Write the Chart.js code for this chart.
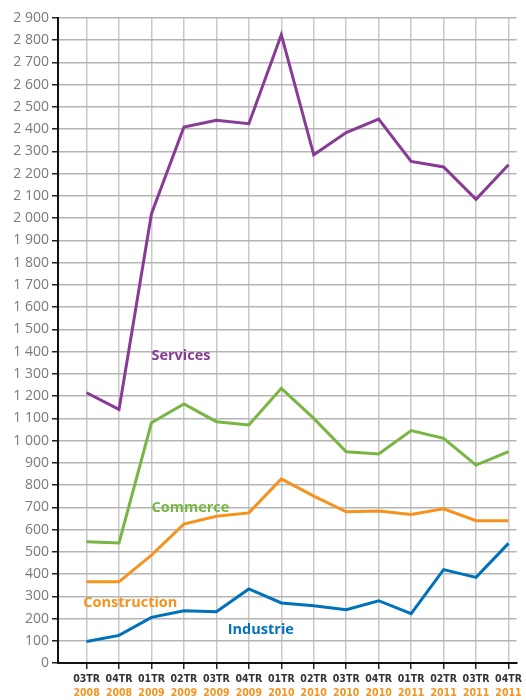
<!DOCTYPE html>
<html>
<head>
<meta charset="utf-8">
<script src="https://cdn.jsdelivr.net/npm/chart.js@4"></script>
<style>
  html, body { margin: 0; padding: 0; background: #fff; }
  #wrap { width: 526px; height: 700px; }
</style>
</head>
<body>
<div id="wrap"><canvas id="myChart" width="526" height="700"></canvas></div>
<script>
const quarters = ["03TR", "04TR", "01TR", "02TR", "03TR", "04TR", "01TR", "02TR", "03TR", "04TR", "01TR", "02TR", "03TR", "04TR"];
const years = ["2008", "2008", "2009", "2009", "2009", "2009", "2010", "2010", "2010", "2010", "2011", "2011", "2011", "2011"];

const services = [1215, 1140, 2020, 2410, 2440, 2425, 2825, 2285, 2385, 2445, 2255, 2230, 2085, 2240];
const commerce = [545, 540, 1080, 1165, 1085, 1070, 1235, 1100, 950, 940, 1045, 1010, 890, 950];
const construction = [365, 365, 485, 625, 660, 675, 828, 750, 680, 683, 668, 693, 640, 640];
const industrie = [97, 124, 205, 235, 230, 333, 270, 257, 240, 280, 222, 420, 385, 538];

// where the series names sit, in chart values (x = quarter index)
const seriesLabels = [
  { text: "Services", x: 2.0, y: 1380, color: "#873b95" },
  { text: "Commerce", x: 2.0, y: 697, color: "#79b543" },
  { text: "Construction", x: -0.1, y: 270, color: "#f6921e" },
  { text: "Industrie", x: 4.35, y: 148, color: "#0071bb" }
];

const toXY = arr => arr.map((v, i) => ({ x: i, y: v }));
const intTicks = scale => { scale.ticks = quarters.map((q, i) => ({ value: i })); };

const fmt = v => v >= 1000 ? Math.floor(v / 1000) + " " + String(v % 1000).padStart(3, "0") : String(v);

const labelPlugin = {
  id: "seriesLabels",
  afterDatasetsDraw(chart) {
    const ctx = chart.ctx;
    const xs = chart.scales.x, ys = chart.scales.y;
    ctx.save();
    ctx.font = "bold 14.5px 'Open Sans', sans-serif";
    ctx.textAlign = "left";
    ctx.textBaseline = "middle";
    seriesLabels.forEach(l => {
      ctx.fillStyle = l.color;
      ctx.fillText(l.text, xs.getPixelForValue(l.x), ys.getPixelForValue(l.y));
    });
    ctx.restore();
  }
};

const line = (data, color) => ({
  data: toXY(data),
  borderColor: color,
  backgroundColor: color,
  borderWidth: 3,
  pointRadius: 0,
  tension: 0,
  fill: false
});

new Chart(document.getElementById("myChart").getContext("2d"), {
  type: "line",
  data: {
    datasets: [
      line(services, "#873b95"),
      line(commerce, "#79b543"),
      line(construction, "#f6921e"),
      line(industrie, "#0071bb")
    ]
  },
  options: {
    responsive: false,
    animation: false,
    layout: { padding: { top: 18, right: 3, left: 0, bottom: 0 } },
    plugins: { legend: { display: false }, tooltip: { enabled: false } },
    scales: {
      x: {
        type: "linear",
        min: -0.88,
        max: 13.25,
        afterBuildTicks: intTicks,
        afterFit: s => { s.height = 23; },
        grid: { color: "#c9c9c9", lineWidth: 1.5, tickColor: "#222", tickLength: 6 },
        border: { color: "#111", width: 2 },
        ticks: {
          autoSkip: false,
          maxRotation: 0,
          padding: 4,
          color: "#333",
          font: { family: "'DejaVu Sans Condensed', 'Liberation Sans Narrow', sans-serif", size: 10.5, weight: "bold" },
          callback: v => quarters[v]
        }
      },
      x2: {
        type: "linear",
        position: "bottom",
        min: -0.88,
        max: 13.25,
        afterBuildTicks: intTicks,
        afterFit: s => { s.height = 14; },
        grid: { display: false, drawTicks: false },
        border: { display: false },
        ticks: {
          autoSkip: false,
          maxRotation: 0,
          padding: 1,
          color: "#f6921e",
          font: { family: "'DejaVu Sans Condensed', 'Liberation Sans Narrow', sans-serif", size: 10.5, weight: "bold" },
          callback: v => years[v]
        }
      },
      y: {
        min: 0,
        max: 2900,
        afterFit: s => { s.width = 58; },
        grid: { color: "#b5b5b5", lineWidth: 1.5, tickColor: "#222", tickLength: 6 },
        border: { color: "#111", width: 2 },
        ticks: {
          stepSize: 100,
          autoSkip: false,
          padding: 3,
          color: "#7a7a7a",
          font: { family: "'Open Sans', sans-serif", size: 14 },
          callback: v => fmt(v)
        }
      }
    }
  },
  plugins: [labelPlugin]
});
</script>
</body>
</html>
